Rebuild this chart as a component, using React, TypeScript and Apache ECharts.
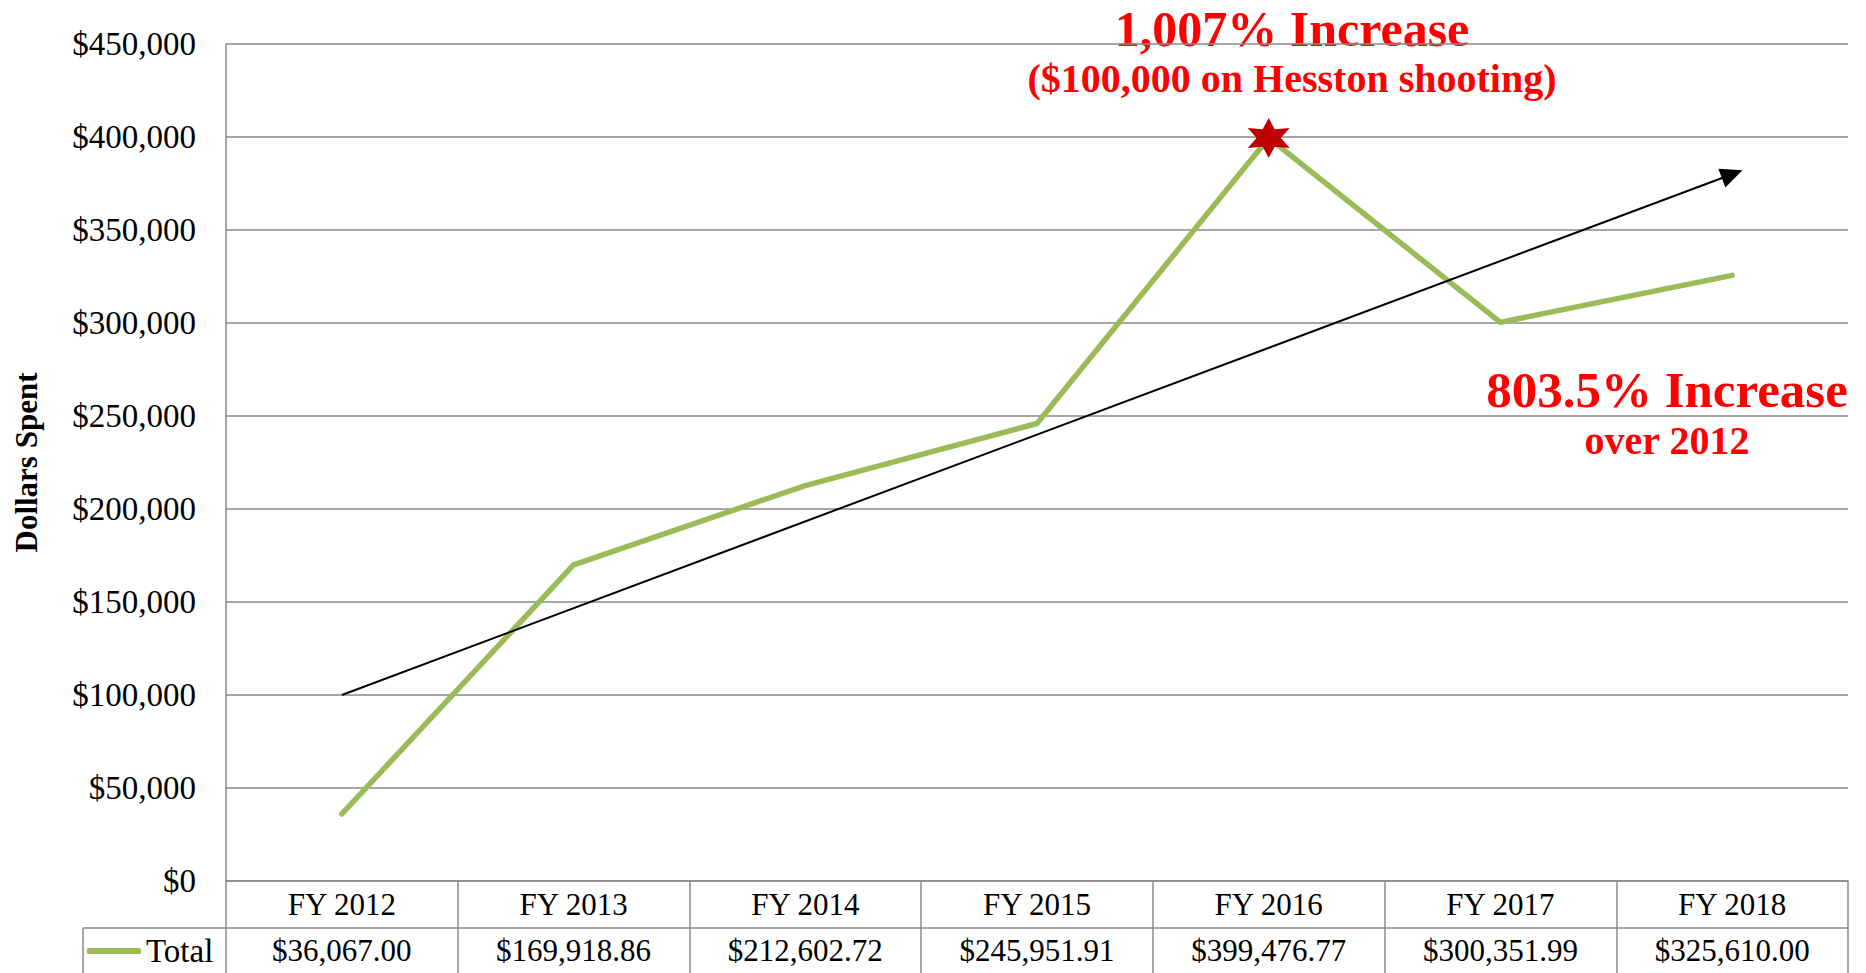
import React, { useEffect, useRef } from "react";
import * as echarts from "echarts";

const categories = ["FY 2012", "FY 2013", "FY 2014", "FY 2015", "FY 2016", "FY 2017", "FY 2018"];
const totals = [36067.0, 169918.86, 212602.72, 245951.91, 399476.77, 300351.99, 325610.0];
const yTicks = { min: 0, max: 450000, interval: 50000 };
const trendStart = 100000;
const trendEnd = 380000;
const peakIndex = 4;
const annotations = {
  peakTitle: "1,007% Increase",
  peakSub: "($100,000 on Hesston shooting)",
  overallTitle: "803.5% Increase",
  overallSub: "over 2012",
};

const SERIF = "'Liberation Serif', 'Times New Roman', serif";
const GRID = "#8a8a8a";
const GREEN = "#9BBB59";
const RED = "#FF0000";

const money2 = (v: number) =>
  "$" + v.toLocaleString("en-US", { minimumFractionDigits: 2, maximumFractionDigits: 2 });
const money0 = (v: number) => "$" + v.toLocaleString("en-US");

const STAR =
  "path://M10,0L12.5,5.67L18.66,5L15,10L18.66,15L12.5,14.33L10,20L7.5,14.33L1.34,15L5,10L1.34,5L7.5,5.67Z";

export default function App() {
  const ref = useRef<HTMLDivElement>(null);
  useEffect(() => {
    document.body.style.margin = "0";
    if (!ref.current) return;
    const chart = echarts.init(ref.current, undefined, { renderer: "svg" });
    const option: any = {
      animation: false,
      backgroundColor: "#ffffff",
      grid: {
        left: 226,
        right: 18,
        top: 44,
        bottom: 92,
        containLabel: false,
        outerBoundsMode: "none",
      },
      legend: {
        data: ["Total"],
        left: 87,
        top: 931,
        padding: 0,
        icon: "roundRect",
        itemWidth: 54,
        itemHeight: 6,
        textStyle: { fontFamily: SERIF, fontSize: 33, color: "#000", lineHeight: 40 },
      },
      xAxis: {
        type: "category",
        data: categories,
        boundaryGap: true,
        axisLine: { show: true, lineStyle: { color: GRID, width: 1.5 } },
        axisTick: { show: true, interval: 0, length: 92, lineStyle: { color: GRID, width: 1.5 } },
        axisLabel: {
          interval: 0,
          margin: 0,
          formatter: (value: string, idx: number) => `{a|${value}}\n{a|${money2(totals[idx])}}`,
          rich: {
            a: { fontFamily: SERIF, fontSize: 31, color: "#000", lineHeight: 46, height: 46 },
          },
        },
        splitLine: { show: false },
      },
      yAxis: {
        type: "value",
        min: yTicks.min,
        max: yTicks.max,
        interval: yTicks.interval,
        name: "Dollars Spent",
        nameLocation: "middle",
        nameGap: 184,
        nameRotate: 90,
        nameTextStyle: { fontFamily: SERIF, fontSize: 31, fontWeight: "bold", color: "#000" },
        axisLine: { show: true, lineStyle: { color: GRID, width: 1.5 } },
        axisTick: { show: false },
        axisLabel: {
          margin: 30,
          fontFamily: SERIF,
          fontSize: 33,
          color: "#000",
          formatter: (v: number) => money0(v),
        },
        splitLine: { show: true, lineStyle: { color: GRID, width: 1.5 } },
      },
      series: [
        {
          name: "Total",
          type: "line",
          data: totals,
          symbol: "none",
          color: GREEN,
          lineStyle: { color: GREEN, width: 5.5, cap: "round", join: "round" },
          z: 3,
          markPoint: {
            silent: true,
            symbol: STAR,
            symbolSize: [42, 40],
            itemStyle: { color: "#C00000" },
            label: { show: false },
            data: [{ coord: [peakIndex, totals[peakIndex]] }],
          },
          markLine: {
            silent: true,
            symbol: ["none", "triangle"],
            symbolSize: [20, 22],
            label: { show: false },
            lineStyle: { color: "#000", width: 2, type: "solid" },
            emphasis: { disabled: true },
            data: [[{ coord: [0, trendStart] }, { coord: [categories.length - 1, trendEnd] }]],
          },
        },
      ],
      graphic: [
        {
          type: "line",
          shape: { x1: 83, y1: 928, x2: 1848, y2: 928 },
          style: { stroke: GRID, lineWidth: 1.5 },
        },
        {
          type: "line",
          shape: { x1: 83, y1: 928, x2: 83, y2: 973 },
          style: { stroke: GRID, lineWidth: 1.5 },
        },
        {
          type: "text",
          x: 1292,
          y: 29,
          style: {
            text: annotations.peakTitle,
            fill: RED,
            font: `bold 50px ${SERIF}`,
            align: "center",
            verticalAlign: "middle",
          },
        },
        {
          type: "text",
          x: 1292,
          y: 78,
          style: {
            text: annotations.peakSub,
            fill: RED,
            font: `bold 40px ${SERIF}`,
            align: "center",
            verticalAlign: "middle",
          },
        },
        {
          type: "text",
          x: 1667,
          y: 390,
          style: {
            text: annotations.overallTitle,
            fill: RED,
            font: `bold 51px ${SERIF}`,
            align: "center",
            verticalAlign: "middle",
          },
        },
        {
          type: "text",
          x: 1667,
          y: 440,
          style: {
            text: annotations.overallSub,
            fill: RED,
            font: `bold 40px ${SERIF}`,
            align: "center",
            verticalAlign: "middle",
          },
        },
      ],
    };
    chart.setOption(option);
    return () => chart.dispose();
  }, []);
  return <div ref={ref} style={{ width: 1866, height: 973 }} />;
}
